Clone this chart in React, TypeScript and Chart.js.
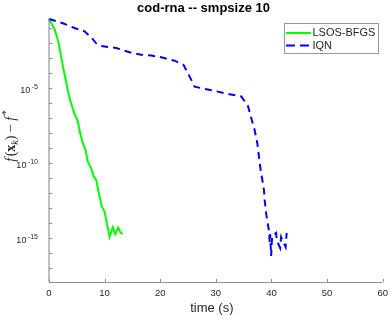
import { useEffect, useRef } from 'react';
import { Chart, registerables } from 'chart.js';

Chart.register(...registerables);

const TITLE = 'cod-rna -- smpsize 10';
const X_LABEL = 'time (s)';
const SERIES_NAMES = ['LSOS-BFGS', 'IQN'];
const X_TICKS = [0, 10, 20, 30, 40, 50, 60];
const Y_LABELED_EXP = [-5, -10, -15];
const Y_TICK_EXP = [-1, -2, -3, -4, -5, -6, -7, -8, -9, -10, -11, -12, -13, -14, -15, -16, -17];
const X_MIN = 0;
const X_MAX = 60;
const Y_MIN_EXP = -17.9;
const Y_MAX_EXP = -0.37;

// LSOS-BFGS: time (s) and log10(f(x_k) - f*)
const lsosTime = [0, 0.99, 1.71, 2.19, 2.66, 3.09, 3.51, 4.0, 4.59, 5.18, 5.61, 6.08, 6.57, 6.98, 7.59, 8.06, 8.49, 8.96, 9.5, 9.99, 10.4, 10.89, 11.48, 11.91, 12.45, 12.86, 13.28];
const lsosLog = [-0.37, -1.03, -1.92, -2.91, -3.81, -4.59, -5.37, -6.03, -6.7, -7.17, -7.99, -8.65, -9.1, -9.88, -10.32, -10.88, -11.1, -11.99, -12.88, -13.21, -13.99, -14.88, -14.25, -14.72, -14.28, -14.61, -14.7];

// IQN: time (s) and log10(f(x_k) - f*)
const iqnTime = [0, 2.48, 4.59, 6.39, 7.59, 8.49, 9.68, 12.09, 14.48, 16.59, 18.39, 20.19, 22.58, 24.2, 25.28, 26.18, 28.28, 30.37, 32.48, 34.58, 35.77, 36.38, 36.97, 37.46, 37.75, 38.05, 38.36, 38.65, 38.77, 39.08, 39.37, 39.58, 39.67, 39.76, 39.94, 40.12, 40.84, 40.93, 41.56, 41.74, 42.55, 42.73];
const iqnLog = [-0.37, -0.65, -0.97, -1.19, -1.59, -1.99, -2.19, -2.3, -2.59, -2.75, -2.81, -2.92, -3.15, -3.43, -4.21, -4.88, -5.05, -5.21, -5.39, -5.53, -6.17, -6.99, -7.77, -8.65, -9.55, -10.43, -11.1, -11.77, -12.43, -13.43, -14.1, -14.57, -15.23, -14.7, -16.17, -14.83, -14.63, -15.1, -15.63, -14.9, -15.57, -14.63];

const GREEN = '#00ff00';
const BLUE = '#0000ff';
const SANS = '"Liberation Sans", Arial, sans-serif';
const SERIF = '"Liberation Serif", "Times New Roman", serif';

const toPoints = (xs: number[], ls: number[]) => xs.map((x, i) => ({ x, y: Math.pow(10, ls[i]) }));

const decorPlugin = {
  id: 'decor',
  afterDraw(chart: any) {
    const ctx = chart.ctx as CanvasRenderingContext2D;
    const xs = chart.scales.x;
    const ys = chart.scales.y;
    const { left, right, top, bottom } = chart.chartArea;
    ctx.save();

    // axes lines
    ctx.strokeStyle = '#808080';
    ctx.lineWidth = 1;
    ctx.beginPath();
    ctx.moveTo(left, top);
    ctx.lineTo(left, bottom);
    ctx.stroke();
    ctx.strokeStyle = '#909090';
    ctx.beginPath();
    ctx.moveTo(left, Math.round(bottom) + 0.5);
    ctx.lineTo(right, Math.round(bottom) + 0.5);
    ctx.stroke();

    // y ticks (inside)
    ctx.strokeStyle = '#909090';
    for (const e of Y_TICK_EXP) {
      const py = Math.round(ys.getPixelForValue(Math.pow(10, e))) + 0.5;
      ctx.beginPath();
      ctx.moveTo(left, py);
      ctx.lineTo(left + 3, py);
      ctx.stroke();
    }
    // x ticks (inside)
    for (const v of X_TICKS) {
      const px = Math.round(xs.getPixelForValue(v)) + 0.5;
      ctx.beginPath();
      ctx.moveTo(px, bottom);
      ctx.lineTo(px, bottom - 3);
      ctx.stroke();
    }

    // x tick labels
    ctx.fillStyle = '#262626';
    ctx.font = `9.5px ${SANS}`;
    ctx.textAlign = 'center';
    ctx.textBaseline = 'middle';
    for (const v of X_TICKS) {
      ctx.fillText(String(v), xs.getPixelForValue(v), bottom + 11);
    }

    // y tick labels with superscript
    ctx.textBaseline = 'middle';
    ctx.textAlign = 'left';
    for (const e of Y_LABELED_EXP) {
      const py = ys.getPixelForValue(Math.pow(10, e));
      const sup = '-' + String(-e);
      ctx.font = `7px ${SANS}`;
      const wSup = ctx.measureText(sup).width;
      ctx.font = `9px ${SANS}`;
      const wBase = ctx.measureText('10').width;
      const endX = left - 11;
      const startX = endX - wSup - 1.5 - wBase;
      ctx.fillText('10', startX, py + 2);
      ctx.font = `7px ${SANS}`;
      ctx.fillText(sup, startX + wBase + 1.5, py - 1.5);
    }

    // title
    ctx.fillStyle = '#000';
    ctx.font = `bold 13px ${SANS}`;
    ctx.textAlign = 'center';
    ctx.textBaseline = 'alphabetic';
    ctx.fillText(TITLE, 203.5, 11.5);

    // x label
    ctx.fillStyle = '#262626';
    ctx.font = `13px ${SANS}`;
    ctx.textBaseline = 'alphabetic';
    ctx.fillText(X_LABEL, (left + right) / 2 - 4, 312);

    // y label (rotated, math)
    const pieces = [
      { t: 'f', f: `italic 14px ${SERIF}`, dy: 0 },
      { t: '(', f: `14px ${SERIF}`, dy: 0 },
      { t: 'x', f: `bold 14px ${SERIF}`, dy: 0 },
      { t: 'k', f: `italic 10px ${SERIF}`, dy: 3 },
      { t: ')', f: `14px ${SERIF}`, dy: 0 },
      { t: ' \u2212 ', f: `14px ${SERIF}`, dy: 0 },
      { t: 'f', f: `italic 14px ${SERIF}`, dy: 0 },
      { t: '*', f: `10px ${SERIF}`, dy: -5.5 },
    ];
    let total = 0;
    const widths: number[] = [];
    for (const p of pieces) {
      ctx.font = p.f;
      const w = ctx.measureText(p.t).width + (p.t === 'f' ? 1.5 : 0);
      widths.push(w);
      total += w;
    }
    ctx.save();
    ctx.translate(10, 136);
    ctx.rotate(-Math.PI / 2);
    ctx.textAlign = 'left';
    ctx.textBaseline = 'alphabetic';
    ctx.fillStyle = '#262626';
    let cx = -total / 2;
    pieces.forEach((p, i) => {
      ctx.font = p.f;
      ctx.fillText(p.t, cx, 4.5 + p.dy);
      cx += widths[i];
    });
    ctx.restore();

    // legend
    ctx.fillStyle = '#fff';
    ctx.fillRect(284.5, 23.5, 94, 30);
    ctx.strokeStyle = '#999';
    ctx.lineWidth = 1;
    ctx.strokeRect(284.5, 23.5, 94, 30);
    ctx.lineWidth = 2;
    ctx.strokeStyle = GREEN;
    ctx.beginPath();
    ctx.moveTo(286, 33);
    ctx.lineTo(311, 33);
    ctx.stroke();
    ctx.strokeStyle = BLUE;
    ctx.setLineDash([9, 5]);
    ctx.beginPath();
    ctx.moveTo(286, 45.5);
    ctx.lineTo(311, 45.5);
    ctx.stroke();
    ctx.setLineDash([]);
    ctx.fillStyle = '#262626';
    ctx.font = `11px ${SANS}`;
    ctx.textAlign = 'left';
    ctx.textBaseline = 'middle';
    ctx.fillText(SERIES_NAMES[0], 312.5, 33);
    ctx.fillText(SERIES_NAMES[1], 312.5, 45.5);

    ctx.restore();
  },
};

export default function App() {
  const ref = useRef<HTMLCanvasElement | null>(null);
  useEffect(() => {
    if (!ref.current) return;
    const chart = new Chart(ref.current, {
      type: 'line',
      data: {
        datasets: [
          {
            label: SERIES_NAMES[0],
            data: toPoints(lsosTime, lsosLog),
            borderColor: GREEN,
            backgroundColor: GREEN,
            borderWidth: 2,
            pointRadius: 0,
            tension: 0,
            fill: false,
            clip: false as any,
            order: 2,
          },
          {
            label: SERIES_NAMES[1],
            data: toPoints(iqnTime, iqnLog),
            borderColor: BLUE,
            backgroundColor: BLUE,
            borderWidth: 2,
            borderDash: [7, 5],
            pointRadius: 0,
            tension: 0,
            fill: false,
            clip: false as any,
            order: 1,
          },
        ],
      },
      options: {
        animation: false,
        responsive: false,
        maintainAspectRatio: false,
        devicePixelRatio: 1,
        layout: { padding: { left: 49, right: 7.3, top: 19, bottom: 34 } },
        plugins: {
          legend: { display: false },
          tooltip: { enabled: false },
          title: { display: false },
        },
        scales: {
          x: {
            type: 'linear',
            min: X_MIN,
            max: X_MAX,
            display: false,
          },
          y: {
            type: 'logarithmic',
            min: Math.pow(10, Y_MIN_EXP),
            max: Math.pow(10, Y_MAX_EXP),
            bounds: 'data',
            display: false,
          },
        },
      },
      plugins: [decorPlugin],
    });
    return () => chart.destroy();
  }, []);
  return (
    <div style={{ position: 'absolute', left: 0, top: 0, width: 390, height: 316, background: '#fff' }}>
      <canvas ref={ref} width={390} height={316} style={{ width: 390, height: 316 }} />
    </div>
  );
}
